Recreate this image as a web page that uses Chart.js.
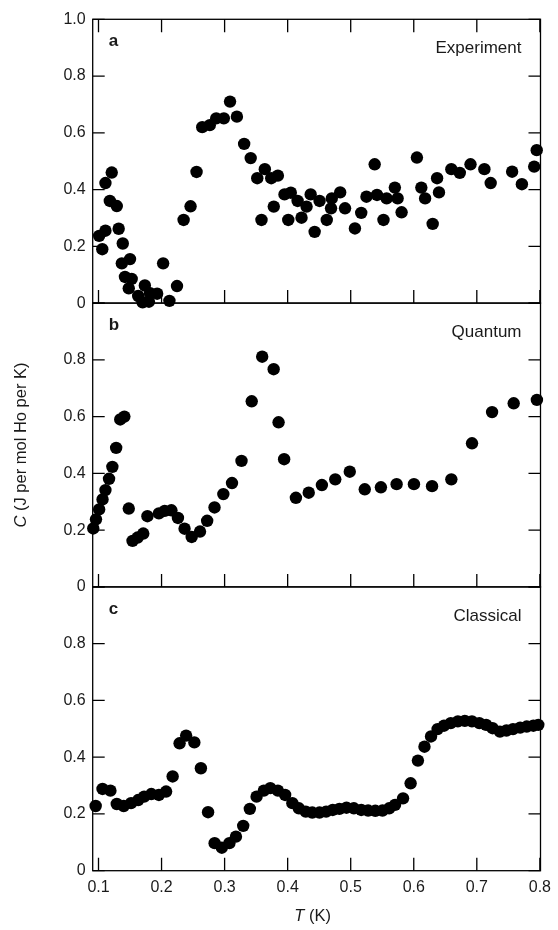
<!DOCTYPE html>
<html>
<head>
<meta charset="utf-8">
<script src="https://cdn.jsdelivr.net/npm/chart.js@4.4.1/dist/chart.umd.min.js"></script>
<style>
    html, body { margin: 0; padding: 0; background: #fff; }
    #wrap { width: 558px; height: 930px; }
</style>
</head>
<body>
<div id="wrap"><canvas id="heatChart" width="558" height="930"></canvas></div>
<script>
// Specific heat of Ho2Ti2O7 spin ice: experiment, quantum and classical simulations

const xTicks = [0.1, 0.2, 0.3, 0.4, 0.5, 0.6, 0.7, 0.8];
const yTicks = [0, 0.2, 0.4, 0.6, 0.8, 1.0];
const panelLetters = ['a', 'b', 'c'];
const panelNames = ['Experiment', 'Quantum', 'Classical'];

// a: Experiment
const expT = [0.101, 0.106, 0.111, 0.111, 0.118, 0.121, 0.129, 0.132, 0.137, 0.1385, 0.142, 0.148, 0.150, 0.1526, 0.163, 0.170, 0.1735, 0.180, 0.1817, 0.193, 0.2025, 0.2125, 0.2245, 0.235, 0.246, 0.2555, 0.2645, 0.2765, 0.2867, 0.2988, 0.3086, 0.3195, 0.331, 0.3414, 0.3518, 0.3585, 0.3638, 0.374, 0.378, 0.3845, 0.395, 0.401, 0.405, 0.4158, 0.422, 0.43, 0.4365, 0.4428, 0.4506, 0.462, 0.4688, 0.470, 0.4833, 0.491, 0.5067, 0.5167, 0.525, 0.538, 0.5417, 0.552, 0.557, 0.570, 0.5744, 0.5807, 0.605, 0.612, 0.618, 0.630, 0.637, 0.640, 0.6596, 0.673, 0.69, 0.712, 0.722, 0.756, 0.7715, 0.791, 0.795];
const expC = [0.237, 0.19, 0.255, 0.423, 0.36, 0.46, 0.342, 0.262, 0.14, 0.21, 0.092, 0.052, 0.155, 0.085, 0.025, 0.003, 0.062, 0.005, 0.035, 0.033, 0.14, 0.008, 0.06, 0.293, 0.341, 0.462, 0.62, 0.627, 0.651, 0.651, 0.71, 0.657, 0.561, 0.511, 0.44, 0.293, 0.472, 0.44, 0.34, 0.449, 0.383, 0.293, 0.389, 0.36, 0.301, 0.34, 0.383, 0.251, 0.36, 0.293, 0.334, 0.369, 0.39, 0.334, 0.263, 0.318, 0.375, 0.489, 0.381, 0.293, 0.369, 0.407, 0.369, 0.32, 0.513, 0.407, 0.369, 0.279, 0.44, 0.39, 0.472, 0.459, 0.489, 0.472, 0.423, 0.463, 0.419, 0.481, 0.539];

// b: Quantum
const quantT = [0.0917, 0.096, 0.101, 0.1064, 0.111, 0.1167, 0.122, 0.128, 0.1345, 0.141, 0.148, 0.154, 0.162, 0.171, 0.1776, 0.1958, 0.205, 0.2156, 0.226, 0.2365, 0.2478, 0.261, 0.2723, 0.284, 0.298, 0.3117, 0.3268, 0.343, 0.3596, 0.3778, 0.3856, 0.3944, 0.4131, 0.4334, 0.4543, 0.4755, 0.4985, 0.5223, 0.5479, 0.5728, 0.6003, 0.629, 0.6596, 0.6924, 0.7242, 0.7585, 0.7953];
const quantC = [0.206, 0.238, 0.273, 0.308, 0.341, 0.381, 0.423, 0.49, 0.59, 0.6, 0.276, 0.162, 0.174, 0.188, 0.249, 0.259, 0.268, 0.27, 0.243, 0.205, 0.176, 0.195, 0.233, 0.28, 0.327, 0.366, 0.444, 0.654, 0.811, 0.767, 0.58, 0.45, 0.314, 0.332, 0.359, 0.379, 0.406, 0.344, 0.351, 0.362, 0.362, 0.355, 0.379, 0.506, 0.616, 0.647, 0.659];

// c: Classical
const classT = [0.0955, 0.1064, 0.1189, 0.129, 0.140, 0.1516, 0.163, 0.1724, 0.1838, 0.1958, 0.2072, 0.2176, 0.2286, 0.239, 0.252, 0.2624, 0.2738, 0.2842, 0.2956, 0.3076, 0.318, 0.3295, 0.34, 0.3507, 0.3622, 0.3725, 0.3845, 0.396, 0.4075, 0.4178, 0.4287, 0.439, 0.4505, 0.461, 0.4715, 0.482, 0.4933, 0.505, 0.5167, 0.5276, 0.539, 0.5504, 0.561, 0.5703, 0.583, 0.595, 0.6066, 0.617, 0.6274, 0.6378, 0.648, 0.6587, 0.670, 0.681, 0.6923, 0.704, 0.7148, 0.725, 0.7367, 0.747, 0.7574, 0.7688, 0.7792, 0.7897, 0.7975];
const classC = [0.228, 0.288, 0.282, 0.235, 0.228, 0.238, 0.249, 0.261, 0.27, 0.267, 0.279, 0.332, 0.449, 0.476, 0.452, 0.361, 0.206, 0.097, 0.081, 0.097, 0.12, 0.158, 0.218, 0.261, 0.282, 0.291, 0.282, 0.267, 0.238, 0.22, 0.208, 0.205, 0.205, 0.208, 0.214, 0.218, 0.222, 0.22, 0.214, 0.212, 0.211, 0.212, 0.22, 0.232, 0.255, 0.308, 0.388, 0.437, 0.473, 0.499, 0.511, 0.52, 0.526, 0.528, 0.526, 0.52, 0.514, 0.502, 0.49, 0.494, 0.499, 0.504, 0.508, 0.511, 0.514];

const FONT = '"Liberation Sans", Arial, Helvetica, sans-serif';
const INK = '#1a1a1a';
const panelAxes = ['ya', 'yb', 'yc'];

const toPoints = (xs, ys) => xs.map((x, i) => ({ x: x, y: ys[i] }));

const makeDataset = (xs, ys, axis) => ({
    data: toPoints(xs, ys),
    yAxisID: axis,
    backgroundColor: '#000',
    borderWidth: 0,
    pointRadius: 6.2,
    pointHoverRadius: 6.2,
    clip: false
});

const makeYScale = (showTop) => ({
    type: 'linear',
    position: 'left',
    stack: 'panels',
    stackWeight: 1,
    min: 0,
    max: 1,
    grid: { display: false, drawTicks: false },
    border: { display: false },
    ticks: {
        stepSize: 0.2,
        padding: 7,
        color: INK,
        font: { family: FONT, size: 16 },
        callback: (v) => {
            if (v > 0.99 && !showTop) return '';
            return v === 0 ? '0' : v.toFixed(1);
        }
    },
    afterFit: (s) => { s.width = 92.7; }
});

// frame, inward ticks and panel labels
const framePlugin = {
    id: 'frame',
    beforeDatasetsDraw(chart) {
        const ctx = chart.ctx;
        const area = chart.chartArea;
        const xs = chart.scales.x;
        const tick = 12;
        ctx.save();
        ctx.strokeStyle = '#000';
        ctx.lineWidth = 1.3;
        panelAxes.forEach((id, p) => {
            const ys = chart.scales[id];
            const top = ys.getPixelForValue(1);
            const bottom = ys.getPixelForValue(0);
            ctx.strokeRect(area.left, top, area.right - area.left, bottom - top);
            ctx.beginPath();
            yTicks.forEach(v => {
                const py = ys.getPixelForValue(v);
                ctx.moveTo(area.left, py);
                ctx.lineTo(area.left + tick, py);
                ctx.moveTo(area.right, py);
                ctx.lineTo(area.right - tick, py);
            });
            xTicks.forEach(v => {
                const px = xs.getPixelForValue(v);
                ctx.moveTo(px, bottom);
                ctx.lineTo(px, bottom - tick - 1);
                if (p === 0) {
                    ctx.moveTo(px, top);
                    ctx.lineTo(px, top + tick + 1);
                }
            });
            ctx.stroke();
        });
        ctx.restore();
    },
    afterDraw(chart) {
        const ctx = chart.ctx;
        const area = chart.chartArea;
        ctx.save();
        ctx.fillStyle = INK;
        ctx.textBaseline = 'middle';
        panelAxes.forEach((id, p) => {
            const top = chart.scales[id].getPixelForValue(1);
            ctx.font = 'bold 17px ' + FONT;
            ctx.textAlign = 'left';
            ctx.fillText(panelLetters[p], area.left + 16, top + 22);
            ctx.font = '17px ' + FONT;
            ctx.textAlign = 'right';
            ctx.fillText(panelNames[p], area.right - 19, top + 29);
        });

        // x title: T (K), T in italics
        const xMid = (area.left + area.right) / 2 - 4;
        const partA = 'T';
        const partB = ' (K)';
        ctx.font = 'italic 16.5px ' + FONT;
        const wA = ctx.measureText(partA).width;
        ctx.font = '16.5px ' + FONT;
        const wB = ctx.measureText(partB).width;
        let x0 = xMid - (wA + wB) / 2;
        ctx.textAlign = 'left';
        ctx.font = 'italic 16.5px ' + FONT;
        ctx.fillText(partA, x0, 916);
        ctx.font = '16.5px ' + FONT;
        ctx.fillText(partB, x0 + wA, 916);

        // y title: C (J per mol Ho per K), C in italics
        const yMid = (area.top + area.bottom) / 2;
        const yA = 'C';
        const yB = ' (J per mol Ho per K)';
        ctx.font = 'italic 16.5px ' + FONT;
        const hA = ctx.measureText(yA).width;
        ctx.font = '16.5px ' + FONT;
        const hB = ctx.measureText(yB).width;
        ctx.translate(21, yMid);
        ctx.rotate(-Math.PI / 2);
        x0 = -(hA + hB) / 2;
        ctx.font = 'italic 16.5px ' + FONT;
        ctx.fillText(yA, x0, 0);
        ctx.font = '16.5px ' + FONT;
        ctx.fillText(yB, x0 + hA, 0);
        ctx.restore();
    }
};

document.addEventListener('DOMContentLoaded', () => {
    const canvas = document.getElementById('heatChart');
    new Chart(canvas, {
        type: 'scatter',
        data: {
            datasets: [
                makeDataset(expT, expC, 'ya'),
                makeDataset(quantT, quantC, 'yb'),
                makeDataset(classT, classC, 'yc')
            ]
        },
        options: {
            responsive: false,
            animation: false,
            devicePixelRatio: 1,
            layout: { padding: { top: 19.3, right: 10, bottom: 0, left: 0 } },
            plugins: {
                legend: { display: false },
                tooltip: { enabled: false }
            },
            scales: {
                x: {
                    type: 'linear',
                    position: 'bottom',
                    min: 0.0908,
                    max: 0.801,
                    grid: { display: false, drawTicks: false },
                    border: { display: false },
                    afterBuildTicks: (s) => { s.ticks = xTicks.map(v => ({ value: v })); },
                    ticks: {
                        padding: 7,
                        maxRotation: 0,
                        autoSkip: false,
                        color: INK,
                        font: { family: FONT, size: 16 },
                        callback: (v) => v.toFixed(1)
                    },
                    afterFit: (s) => { s.height = 59.3; }
                },
                // stacked left axes are laid out bottom-up, so the lowest panel comes first
                yc: makeYScale(false),
                yb: makeYScale(false),
                ya: makeYScale(true)
            }
        },
        plugins: [framePlugin]
    });
});
</script>
</body>
</html>
